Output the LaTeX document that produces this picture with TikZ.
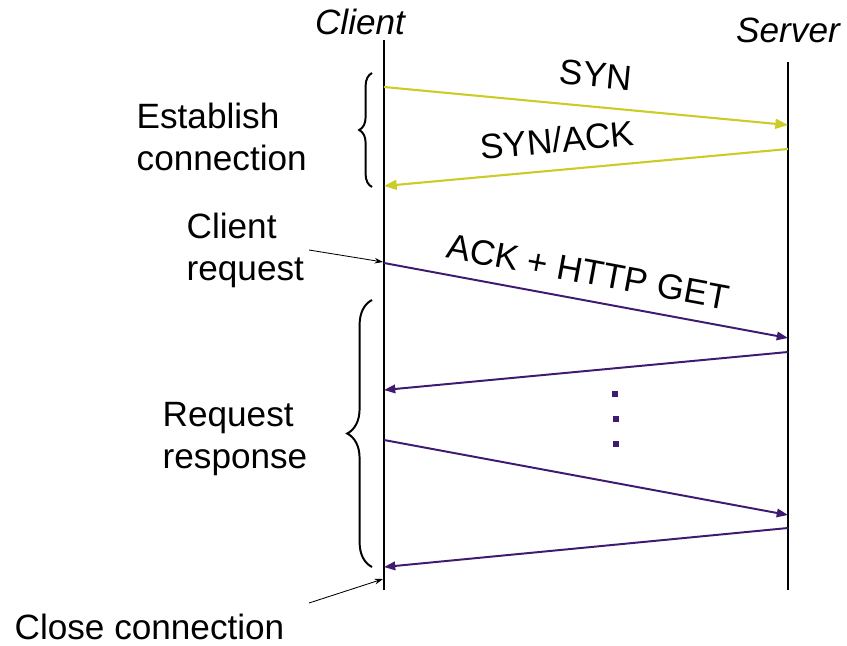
\documentclass[tikz,border=0pt]{standalone}
\usepackage{fontspec}
\setmainfont{Liberation Sans}
\usetikzlibrary{arrows.meta,positioning,decorations.pathreplacing}
\definecolor{synyellow}{RGB}{204,204,40}
\definecolor{httppurple}{RGB}{62,26,112}

\begin{document}
\begin{tikzpicture}[
    x=0.025cm, y=-0.025cm,
    % Style definitions
    lifeline/.style={line width=2pt, black},
    txt/.style={font=\fontsize{25}{30}\selectfont, align=left, inner sep=1pt},
    actor/.style={font=\fontsize{25}{30}\selectfont\itshape, inner sep=1pt},
    msglabel/.style={font=\fontsize{25}{30}\selectfont, inner sep=1pt},
    handshake/.style={-{Triangle[length=9pt, width=7pt]}, line width=1.5pt, draw=synyellow},
    request/.style={-{Triangle[length=8pt, width=6pt]}, line width=1.4pt, draw=httppurple},
    pointer/.style={-{Stealth[length=6pt, width=4pt]}, line width=0.6pt},
    phase/.style={decorate, decoration={brace, amplitude=#1}, line width=1.4pt},
    dot/.style={rectangle, fill=httppurple, inner sep=0pt, minimum size=0.17cm}
]
\useasboundingbox (0,0) rectangle (847,645);

% Actors
\node[actor] (client) at (360,22) {Client};
\node[actor] (server) at (788,30) {Server};

% Lifelines
\coordinate (c0) at (384,40);
\coordinate (c1) at (384,590);
\coordinate (s0) at (788,62);
\coordinate (s1) at (788,590);
\draw[lifeline] (c0) -- (c1);
\draw[lifeline] (s0) -- (s1);

% Message end points
\coordinate (syn1) at (384,87);   \coordinate (syn2) at (788,125);
\coordinate (ack1) at (788,149);  \coordinate (ack2) at (384,186);
\coordinate (get1) at (384,263);  \coordinate (get2) at (788,338);
\coordinate (r1a) at (788,352);   \coordinate (r1b) at (384,390);
\coordinate (r2a) at (384,440);   \coordinate (r2b) at (788,515);
\coordinate (r3a) at (788,528);   \coordinate (r3b) at (384,567);

% Handshake
\draw[handshake] (syn1) -- (syn2);
\draw[handshake] (ack1) -- (ack2);
\node[msglabel, rotate=-5.4] (synlbl) at (596,75) {SYN};
\node[msglabel, rotate=5.2] (acklbl) at (557,140) {SYN/ACK};

% Request and response
\draw[request] (get1) -- (get2);
\draw[request] (r1a) -- (r1b);
\draw[request] (r2a) -- (r2b);
\draw[request] (r3a) -- (r3b);
\node[msglabel, rotate=-10.5] (getlbl) at (588,272) {ACK + HTTP GET};

\node[dot] (d1) at (615,394) {};
\node[dot] (d2) at (616,419) {};
\node[dot] (d3) at (616,444) {};

% Phases
\coordinate (b1top) at (372,73);  \coordinate (b1bot) at (372,187);
\coordinate (b2top) at (372,300); \coordinate (b2bot) at (372,567);
\draw[phase=0.32cm] (b1bot) -- (b1top);
\draw[phase=0.62cm] (b2bot) -- (b2top);

\node[txt, anchor=west] (establish) at (135,137) {Establish\\connection};
\node[txt, anchor=west] (clientreq) at (185,250) {Client\\request};
\node[txt, anchor=west] (reqresp) at (161,439) {Request\\response};
\node[txt, anchor=west] (closeconn) at (13,627) {Close connection};

% Pointers
\coordinate (p1) at (309,250);
\coordinate (p2) at (309,603);
\coordinate (q1) at (383,262);
\coordinate (q2) at (383,579);
\draw[pointer] (p1) -- (q1);
\draw[pointer] (p2) -- (q2);

\end{tikzpicture}
\end{document}
